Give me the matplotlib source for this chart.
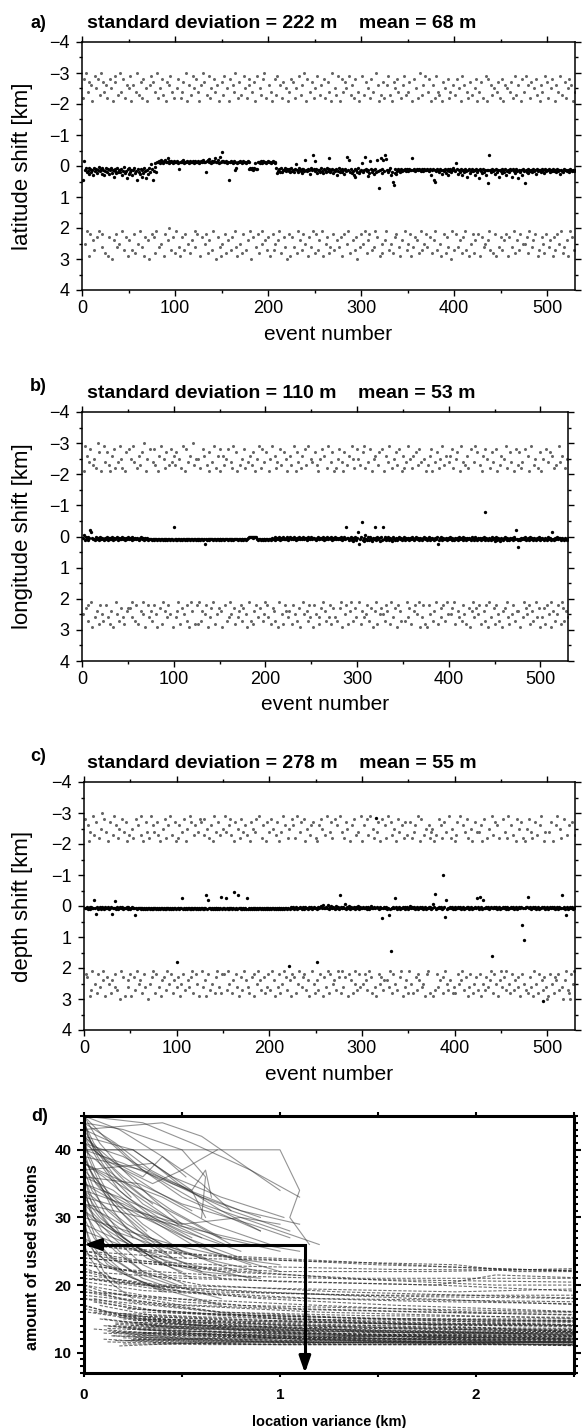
import numpy as np
import matplotlib
matplotlib.use('Agg')
import matplotlib.pyplot as plt
from matplotlib.ticker import MultipleLocator, FuncFormatter

# --- data -------------------------------------------------------------
# black dots: relocation shift per event, in units of 10 m
lat_shift_10m = [
    45, -15, 12, 8, 20, 15, 5, 25, 10, 18, 12, 28, 6, 15, 9, 22, 14, 3, 17, 11,
    8, 25, 13, 30, 16, 5, 19, 11, 27, 14, 7, 21, 12, 35, 9, 16, 24, 6, 18, 13,
    20, 10, 28, 15, 4, 22, 17, 38, 11, 26, 8, 19, 14, 30, 12, 6, 24, 16, 45, 10,
    18, 27, 9, 35, 14, 21, 5, 16, 40, 12, 25, 8, 18, -5, 11, 45, 15, 3, -10, 20,
    -14, -12, -15, -11, -18, -13, -10, -16, -20, -12, -14, -25, -11, -15, -13, -17, -12, -10, -15, -14,
    -13, -16, -11, 10, -14, -12, -15, -13, -18, -11, -14, -12, -16, -13, -10, -15, -14, -12, -17, -11,
    -13, -15, -12, -14, -16, -11, -13, -15, -12, -20, -14, -13, 20, -15, -18, -12, -22, -14, -11, -16,
    -13, -15, -25, -12, -14, -18, -11, -30, -13, -15, -45, -16, -14, -12, -15, -11, -13, 45, -14, -16,
    -12, -10, -15, 12, -13, 5, -11, -14, -12, -16, -13, -10, -15, -12, -14, -11, -13, -15, -12, 10,
    8, 10, 5, 12, 7, -10, 9, 11, -12, -14, -11, -15, -13, -10, -16, -12, -14, -11, -13, -15,
    -12, -14, -10, -13, -15, -12, -11, -14, 5, 22, 15, 10, 18, 8, 20, 12, 14, 6, 16, 11,
    13, 9, 17, 20, 7, 15, 12, 18, 10, -5, 14, 19, 8, 13, 16, 11, 22, 9, 15, -20,
    12, 17, 10, 14, 25, 8, 13, -35, 11, -15, 16, 9, 21, 14, 12, 18, 7, 15, 24, 10,
    13, 20, 8, 16, 11, -25, 19, 14, 9, 22, 12, 17, 10, 28, 15, 8, 20, 13, 11, 18,
    14, 25, 9, 16, -30, 12, -20, 18, 10, 22, 15, 28, 11, 35, 13, 19, 8, 24, 16, 12,
    -10, 20, 14, -30, 10, 17, 33, 12, 22, -15, 9, 18, 14, 26, 11, 20, -18, 15, 70, 13,
    -25, 24, 10, -20, 16, -35, -22, 12, 19, 14, 8, 30, 18, 50, 60, 22, 11, 25, 15, 9,
    13, 20, 10, 17, 12, 14, 9, 16, 11, 13, 15, 10, 12, 14, -25, 13, 9, 15, 12, 10,
    14, 11, 13, 16, 10, 12, 15, 11, 14, 13, 9, 12, 16, 10, 30, 13, 11, 45, 50, 12,
    15, 10, 13, 20, 11, 14, 25, 12, 17, 9, 22, 13, 28, 11, 16, 10, 19, 14, 8, 12,
    15, -10, 11, 25, 13, 18, 10, 30, 14, 12, 20, 9, 16, 35, 13, 11, 22, 15, 10, 17,
    12, 28, 14, 9, 19, 13, 40, 11, 16, 24, 10, 18, 13, 30, 12, 55, 14, -35, 14, 20,
    11, 17, 13, 25, 10, 19, 14, 35, 12, 16, 9, 22, 13, 18, 11, 30, 15, 12, 20, 10,
    14, 35, 11, 17, 13, 24, 10, 16, 40, 12, 19, 14, 28, 11, 15, 55, 13, 18, 10, 22,
    12, 16, 14, 20, 11, 15, 13, 25, 10, 17, 14, 12, 18, 11, 15, 13, 22, 10, 16, 12,
    14, 11, 19, 13, 15, 10, 17, 12, 14, 20, 11, 16, 13, 25, 12, 15, 18, 11, 14, 13,
    16, 12, 15, 18, 11, 14, 17, 13, 15, 12]

lon_shift_10m = [
    5, -5, 10, 3, 8, 12, 0, 6, -20, -15, 4, 9, 7, 11, 2, 8, 5, 10, 6, 3,
    9, 4, 7, 12, 5, 8, 2, 10, 6, 4, 9, 7, 3, 11, 5, 8, 6, 2, 10, 4,
    7, 5, 9, 3, 8, 6, 11, 4, 7, 2, 9, 5, 8, 10, 3, 6, 9, 4, 7, 5,
    8, 10, 6, 3, 9, 7, 5, 11, 4, 8, 6, 10, 7, 9, 8, 10, 9, 8, 10, 9,
    9, 10, 8, 9, 10, 9, 8, 10, 9, 11, 8, 9, 10, 9, 8, 10, 9, 8, 10, -30,
    8, 12, 9, 10, 8, 9, 10, 9, 11, 8, 9, 10, 8, 9, 10, 9, 8, 10, 9, 8,
    10, 9, 8, 10, 9, 11, 8, 9, 10, 9, 8, 10, 9, 25, 8, 10, 9, 8, 10, 9,
    8, 9, 10, 8, 9, 11, 9, 8, 10, 9, 8, 10, 9, 8, 10, 9, 8, 9, 10, 8,
    9, 10, 8, 9, 10, 8, 9, 7, 9, 10, 8, 9, 10, 8, 9, 10, 8, 9, 10, 8,
    5, 2, 0, 3, 1, 4, 2, 0, 3, 1, 8, 10, 9, 8, 10, 9, 11, 8, 9, 10,
    8, 9, 10, 9, 8, 10, 4, 9, 8, 10, 2, 9, 6, 8, 0, 10, 5, 9, 3, 7,
    9, 4, 8, 1, 10, 6, 3, 9, 5, 7, 2, 8, 10, 4, 6, 9, 3, 7, 5, 8,
    2, 9, 6, 4, 10, 3, 8, 5, 7, 1, 9, 6, 4, 8, 10, 5, 3, 7, 9, 6,
    4, 8, 2, 10, 5, 7, 3, 9, 6, 4, 8, 1, 10, 5, 7, 3, 9, 6, 8, 4,
    7, 2, 10, 5, 8, 3, 9, -30, 6, 4, 12, 7, 0, 10, 5, 15, 8, 3, 11, 6,
    -15, 25, 9, 2, -45, 12, 5, 15, -5, 8, 10, 3, 12, 0, 7, 14, 4, 9, 6, -30,
    11, 2, 8, 5, 13, 0, 10, -30, 7, 3, 12, 6, 9, 1, 11, 5, 8, 14, 3, 7,
    10, 4, 8, 12, 6, 2, 9, 5, 11, 7, 3, 10, 6, 8, 4, 9, 12, 5, 7, 2,
    8, 11, 6, 3, 9, 5, 10, 7, 4, 8, 12, 6, 2, 9, 5, 11, 7, 3, 10, 6,
    8, 4, 9, 12, 5, 7, 2, 25, 10, 6, 8, 3, 11, 5, 9, 7, 4, 10, 6, 8,
    3, 9, 12, 5, 7, 10, 4, 8, 6, 11, 2, 9, 5, 7, 10, 3, 8, 6, 12, 4,
    9, 5, 7, 11, 3, 8, 10, 6, 2, 9, 12, 5, 7, 4, 10, 6, 8, 3, 11, -80,
    5, 9, 12, 4, 7, 10, 2, 8, 6, 15, 3, 9, 11, 5, 7, 14, 4, 8, 10, 6,
    2, 9, 12, 5, 7, 10, 4, 8, 6, 11, 3, 9, -20, 8, 35, 10, 7, 12, 4, 8,
    6, 9, 3, 11, 7, 5, 10, 8, 2, 9, 6, 12, 4, 8, 10, 5, 7, 3, 11, 6,
    9, 4, 8, 10, 5, 7, 12, 3, 9, 6, 8, 11, -15, 7, 10, 5, 9, 2, 8, 4,
    6, 11, 4, 9, 7, 12, 5, 8, 10, 6]

dep_shift_10m = [
    5, 8, 3, 10, 6, 2, 9, 4, 7, 5, -20, 8, 25, 3, 10, 6, 4, 9, 2, 7,
    5, 10, 3, 8, 6, 4, 9, 7, 2, 25, 8, 5, 6, -15, 10, 3, 9, 7, 4, 8,
    2, 10, 6, 5, 8, 3, 9, 4, 7, 10, 6, 3, 5, 8, 30, 7, 9, 6, 8, 7,
    9, 8, 7, 9, 8, 10, 7, 9, 8, 7, 9, 8, 10, 7, 9, 8, 7, 9, 8, 10,
    7, 9, 8, 7, 9, 8, 10, 7, 9, 8, 7, 9, 8, 10, 7, 9, 8, 7, 9, 180,
    8, 7, 9, 8, 7, -25, 9, 8, 10, 7, 9, 8, 7, 9, 8, 10, 7, 9, 8, 7,
    9, 8, 10, 7, 9, 8, 7, 9, 8, 10, 7, -35, 9, -20, 8, 7, 9, 8, 10, 7,
    9, 8, 7, 9, 8, 10, 7, -30, 9, 8, 7, 9, -25, 8, 10, 7, 9, 8, 7, 9,
    8, -45, 10, 7, 9, -35, 8, 7, 9, 8, 10, 7, 9, 8, 10, -25, 9, 8, 10, 7,
    9, 8, 7, 9, 8, 10, 7, 9, 8, 7, 9, 8, 10, 7, 9, 8, 7, 9, 8, 10,
    7, 9, 8, 7, 9, 8, 10, 7, 9, 8, 7, 9, 8, 10, 7, 9, 8, 7, 9, 8,
    195, 9, 2, 7, 8, 4, 10, 6, 3, 9, 5, 8, 2, 7, 10, 4, 6, 9, 3, 8,
    5, 10, 2, 7, 4, 9, 6, 3, 8, 5, 10, 180, 2, 7, 4, 0, 6, -3, 8, 5,
    2, 7, -2, 9, 4, 6, 1, 8, 3, 5, 10, 0, 7, 4, 9, -35, 2, 6, 8, 3,
    5, -5, 10, 4, 7, 0, 9, 3, 6, 8, 2, 5, 10, 4, 7, 1, 9, 3, 6, 8,
    2, 5, 8, 4, 7, 10, 3, 9, 6, 0, 8, 5, 2, 7, -285, 4, 6, 9, 3, 5,
    5, 40, 8, 2, 7, 4, 10, 6, 30, 9, 145, 5, 8, 2, 7, -25, 4, 10, 6, 3,
    9, 5, 8, 2, 7, 4, 10, 6, 3, 9, 5, 0, 8, 2, 7, 4, 10, 6, 3, 9,
    5, 8, 2, 7, 4, 10, 6, 3, 9, 5, 8, 2, 7, 4, 10, 6, -5, 3, -40, 9,
    5, 8, 2, 7, 4, 10, 6, -100, 3, 35, -20, 9, 5, 8, 2, 7, 4, 10, 6, 3,
    9, 5, 8, 2, 7, 4, 10, 6, 3, 9, 5, 8, 2, 7, 4, 10, 6, 3, 9, 5,
    8, 2, 7, -25, 4, 10, -28, 6, 3, 9, -20, 5, 8, 2, 7, 4, 10, 6, 3, 160,
    5, 8, 2, 7, 4, 10, 6, 3, 9, 5, 8, 2, 7, 4, 10, 6, 3, 9, 5, 8,
    2, 7, 4, 10, 6, 3, 9, 5, 8, 2, 7, 4, 60, 5, 110, 7, 4, 3, -30, 6,
    3, 9, 5, 8, 2, 7, 4, 10, 6, 3, 9, 5, 8, 2, 305, 7, 4, 10, 6, 3,
    9, 5, 4, 8, 2, 7, 4, 10, 6, 5, 3, 9, 2, 5, 8, -35, 7, 4, 10, 30,
    3, 9, 5, 8, 2, 7, 4, 10, 6, 3]

# grey dots: perturbed starting position per event, in units of 100 m
lat_start_100m = [
    -22, -28, 25, -30, 21, -24, -27, 29, 22, -26, -21, 24, 27, -29, -25, 23, -28, 21, -23, -30, 26, 22, -27, -24, 28,
    -26, -22, 29, 23, -28, -25, 30, -21, 24, -27, -29, 22, 26, -23, 25, -30, -24, 21, -28, 27, -22, 23, -26, 29, -25,
    24, -29, -21, 27, -26, 22, 28, -24, -30, 25, -23, 21, -27, 26, -22, -28, 29, 23, -25, -21, 24, 30, -26, -29, 22,
    -27, 23, -24, 28, 21, -30, -22, 26, -25, 25, -28, -23, 29, 22, -21, -27, 24, -26, 20, -29, 27, -24, 23, -22, 28,
    21, -25, -28, 26, 29, -22, -24, 23, -27, 27, 22, -30, -21, 25, -26, 28, -23, 24, -29, -25, 21, 26, -28, 22, -24,
    -21, 29, -26, 23, -30, -27, 25, 22, -23, 28, -29, 24, -22, -25, 27, 21, -28, -24, 30, -26, 23, -21, 26, 29, -27,
    25, -23, -29, 22, 28, -25, 24, -21, -28, 27, 23, -26, -24, 21, -30, 26, 29, -22, -27, 25, -23, 28, 22, -29, -25,
    27, -22, 24, -28, -26, 21, 30, -24, 23, -27, -21, 26, -29, 22, 28, -25, -23, 25, 21, -28, -30, 24, -22, 27, 23,
    -26, 29, -24, -21, 22, 27, -28, 25, -23, -29, 24, 21, -26, 28, -22, -27, 23, 26, -25, 30, -21, -24, 22, 29, -28,
    23, -27, 26, -22, -25, 28, 21, -29, 24, -23, 27, -26, 22, -30, 25, -21, -28, 29, 23, -24, 26, -27, 21, -22, 28,
    -25, 22, -29, 27, 24, -23, -26, 21, 29, -28, -22, 25, 23, -27, -24, 28, 26, -21, -30, 22, 27, -25, -23, 24, -29,
    26, -21, 23, -28, 29, -24, 22, -27, -25, 25, 21, -29, 28, -23, -26, 24, -22, 27, -28, 23, 30, -24, -21, 26, 22,
    -29, 25, -23, 21, -27, 28, -25, 24, 22, -22, -28, 27, -24, 26, 21, -30, 23, -26, -21, 29, -23, 25, 28, -27, -22,
    24, 21, -26, -29, 27, -23, 25, -21, 28, -27, 23, -25, 22, -28, -24, 26, 29, -22, 24, -26, -29, 21, -23, 27, 25,
    -24, -27, 22, 29, -21, 26, -28, 23, -25, 24, -22, 28, -30, 21, 27, -23, -26, 25, -29, 22, 26, -24, -28, 23, -21,
    28, -26, 24, -22, 21, -29, 27, -24, -23, 25, 29, -21, -27, 22, -25, 28, 23, -28, 26, -22, -24, 30, 21, -26, 27,
    -23, 22, -28, 26, -25, 24, -21, -29, 28, 23, -26, 21, 27, -24, -22, 29, -27, 25, -23, 22, 28, -25, 24, -28, -21,
    22, -24, 29, -27, 23, -22, 26, 25, -29, -21, 24, -28, 21, 27, -26, -23, 28, -25, 22, 29, -24, -27, 26, -22, 23,
    -28, 27, -21, 24, -26, 22, -25, 29, 23, -24, -27, 26, -22, 21, 28, -29, -23, 24, -26, 27, 22, -21, -28, 25, -24,
    25, -29, 23, -26, 28, 21, -22, -27, 26, 24, -25, 22, -28, -23, 29, 27, -21, -26, 23, -24, 25, 28, -29, 22, -27,
    -22, 26, 24, -25, -28, 29, 23, -21, 27, -26, 22, -24, 25, -29, 21, -23, 28, 26, -27, -22, 24, -25, 29, -28, 21,
    -26, 23, -21, 27, -24]

lon_start_100m = [
    25, -21, -29, 23, -26, 27, 22, -24, -28, 21, 29, -23, -25, 26, -22, 24, -30, 28, -27, 22, -21, 25, 27, -29, -24,
    22, -27, 26, -23, -21, 28, 24, -26, 29, -28, -22, 21, 25, -24, 27, -29, 23, -25, -22, 26, 28, -21, -27, 24, 23,
    -28, 23, -25, 21, 26, -29, -24, 27, 22, -22, 28, -26, -23, 24, -27, 25, 21, -30, 29, -21, -25, 22, 26, -28, 24,
    27, -24, 22, -28, -23, 25, 29, -21, -26, 23, -29, 28, 21, -25, 24, -22, -27, 26, 22, -23, 25, -28, -24, 29, -26,
    -23, 26, -27, 24, 21, -25, 28, -22, 23, -29, 25, -21, -28, 27, 22, -24, 29, -26, 21, 24, -30, -23, 28, -25, 22,
    28, -25, 21, -22, 27, 24, -28, -26, 25, 22, -23, 29, -21, -27, 26, 23, -24, 21, -29, 28, -22, 25, -26, 23, -28,
    -21, 24, 29, -26, -23, 22, -25, 27, -28, 26, 21, -24, 25, -22, -29, 23, 28, -27, -21, 26, 24, -23, 22, -25, 27,
    23, -28, -22, 25, 29, -24, 21, -26, 27, -23, -27, 28, 24, -21, 22, -25, 26, -29, 23, -22, -28, 27, 25, -24, 21,
    -27, 22, 26, -21, -25, 28, -29, 23, 24, -26, 27, -22, -24, 29, 21, -28, -23, 25, 28, -27, 22, -25, 24, -21, 26,
    24, -26, -23, 28, 22, -29, 25, -21, -27, 27, -24, 23, 29, -22, -26, 21, 25, -28, -23, 24, 27, -29, 22, 26, -25,
    -24, 29, 22, -27, 25, -23, -21, 26, 28, -25, 23, -28, 21, -26, 24, 27, -22, -29, 26, 22, -24, 28, -27, 23, -21,
    26, -22, 27, -25, -28, 23, 21, -24, 29, -21, -27, 25, 22, -23, 28, -26, 24, 21, -29, 27, -25, -22, 23, 26, -28,
    -25, 21, -23, 28, 24, -27, 26, -29, -22, 25, 22, -24, 27, -28, 23, -21, 29, -25, 24, -26, 21, 28, -23, -27, 25,
    23, -28, 25, -21, 27, 22, -26, 24, -24, -29, 28, 21, -22, 26, -25, 23, -27, 29, -23, 22, -28, 24, 27, -21, -26,
    -22, 27, -24, 21, -29, 26, 23, -25, 28, -22, -26, 24, 22, -27, 25, -23, 21, -28, 29, -24, 26, 22, -25, 28, -21,
    29, -23, 22, -26, 25, -28, -21, 27, 24, -24, 21, -27, 28, -22, -25, 26, 23, -29, 22, -23, 27, -26, 21, 25, -24,
    -26, 25, -28, 23, -22, 21, 28, -25, -27, 24, 26, -21, -29, 27, 22, -24, 25, -23, 28, -26, -22, 23, 29, -28, 24,
    21, -24, 26, -29, 23, -27, 25, 22, -23, 28, -21, -26, 24, 27, -28, 22, -25, 29, 21, -22, 26, -27, -24, 23, 28,
    -28, 22, -21, 25, 27, -23, -26, 29, 24, -25, 23, -29, 21, -22, 26, 28, -27, -24, 25, 22, -21, 27, -28, 24, -23,
    24, -27, 29, -22, -24, 26, 21, -28, 23, 25, -26, 22, -21, 28, -29, 24, 27, -23, -25, 21, 26, -22, 23, -27, 29,
    -21, 26, -25, 23, 28, -28, 22, -24, 25, -27, 21, 29, -26, 24, -22, 27, -23, 25, 22, -29, -24, 28, 21, -26, 23,
    27, -22, 24, -25, 26]

dep_start_100m = [
    -28, 22, 23, -26, -21, 29, -24, 27, 21, -29, -23, 25, -27, 28, 22, -22, 26, -25, -30, 24, 21, -28, 29, -24, 23,
    -21, 25, -27, 28, 24, -23, -29, 22, 26, -26, 27, -22, -25, 30, 21, -28, 23, -24, 29, -27, -21, 24, 26, -23, 22,
    29, -25, -22, 23, 27, -28, 21, -26, 25, 24, -29, -23, 28, -21, 22, 26, -27, -24, 30, -22, 25, -29, 23, 21, -26,
    -24, 28, 22, -27, -23, 26, -21, 29, 24, -25, 23, -28, -22, 27, 21, -26, 25, -29, 22, -23, 28, 24, -27, -21, 26,
    23, -22, -26, 29, 25, -24, 22, -28, 27, -21, -25, 24, 26, -29, 23, -27, 21, 28, -23, -26, 22, 25, -24, 29, -28,
    -27, 21, 26, -23, -28, 24, 29, -25, 22, -22, 27, -26, 25, -21, -29, 28, 23, -24, 21, -27, 26, -23, 28, 22, -25,
    22, -29, -24, 27, 21, -26, 25, -28, -23, 28, 24, -21, -27, 22, 26, -25, 29, -22, -28, 23, 27, -24, 21, -26, 24,
    -23, 26, 28, -21, -27, 23, -25, 22, 29, -24, -28, 25, 21, -29, 24, 27, -22, -26, 23, 28, -21, 26, -27, 22, -24,
    27, -28, 21, -25, 24, 29, -23, -27, 26, 22, -21, 28, -24, 25, -29, 21, -26, 23, 27, -22, -25, 24, 29, -28, 22,
    -26, 23, -22, 28, -29, 25, 21, -24, -27, 26, 23, -28, 22, -21, 27, -25, 24, 29, -23, -26, 21, -27, 25, 28, -22,
    24, -21, 27, -26, 22, -28, -25, 29, 23, -23, 26, -29, 21, 28, -24, 22, -27, -22, 25, 24, -28, 27, -26, 21, 23,
    -29, 28, -24, 21, 26, -22, 23, -27, -25, 29, 22, -21, 24, -26, 28, -28, 25, 21, -23, 27, -24, 22, 26, -29, -21,
    25, -26, 22, 24, -28, 27, -23, 21, -29, 23, 28, -25, -22, 26, 29, -24, -27, 22, 25, -21, 23, -28, 27, 24, -26,
    -22, 24, -29, 26, 21, -27, 28, -23, 22, -25, 25, -21, 27, -28, -24, 23, 21, -26, 29, -22, -27, 26, 24, -23, 28,
    21, -27, 25, -22, 28, -24, -26, 23, 27, -29, 22, 24, -21, -28, 26, 25, -23, 29, -25, 22, 21, -26, -22, 28, -24,
    -25, 29, -21, 27, -23, 22, 26, -28, 24, -26, -22, 28, 23, -27, 21, -24, 25, 27, -29, 24, -22, -25, 28, 26, -21,
    28, -23, -27, 22, 25, -29, 24, 21, -26, 27, -24, 23, -28, 29, -22, 26, 22, -25, -21, 28, 25, -27, 23, -24, 27,
    -24, 22, 29, -26, -21, 25, -28, 27, 23, -22, 26, -25, 24, 21, -29, -23, 28, 22, -27, 25, -26, 29, -22, 24, 21,
    26, -28, 23, -24, 27, 21, -22, -29, 25, 28, -26, 22, -23, 27, 24, -21, -28, 26, 23, -25, 29, -27, 22, -22, 25,
    -21, 27, -25, 28, -28, 23, 26, -24, -22, 29, 21, -27, 25, -23, 28, 22, -26, -29, 24, 27, -21, 23, -24, 26, 30,
    29, -24, 22, -27, 25, -21, 28, 23, -26, 24, -29, 22, 27, -25, -22, 26, 30, -28, 24, 21, -23, 27, 28, -26, 30,
    22, -27, 25, 21, -23]

# panel d: location variance (km) vs. number of used stations, one curve per event
solid_var = [
    [0, 0.1, 0.25, 0.5, 0.9], [0, 0.05, 0.2, 0.45, 0.7], [0, 0.15, 0.3, 0.6, 1.0, 1.2],
    [0, 0.08, 0.18, 0.35, 0.55], [0, 0.2, 0.45, 0.8, 1.1], [0, 0.12, 0.3, 0.5, 0.75],
    [0, 0.3, 0.6, 1.0, 1.1, 1.05, 1.15], [0, 0.05, 0.15, 0.3, 0.5], [0, 0.22, 0.4, 0.65, 0.95],
    [0, 0.1, 0.28, 0.5, 0.8], [0, 0.04, 0.12, 0.25, 0.4], [0, 0.18, 0.42, 0.7, 1.0],
    [0, 0.07, 0.2, 0.38, 0.6], [0, 0.25, 0.5, 0.8, 1.0], [0, 0.1, 0.25, 0.45, 0.7],
    [0, 0.15, 0.35, 0.6, 0.9], [0, 0.05, 0.14, 0.3, 0.5], [0, 0.3, 0.55, 0.85, 1.1],
    [0, 0.2, 0.5, 0.62, 0.6], [0, 0.02, 0.08, 0.15, 0.25], [0, 0.25, 0.45, 0.7, 1.02],
    [0, 0.06, 0.15, 0.28, 0.45], [0, 0.3, 0.55, 0.62, 0.65], [0, 0.04, 0.1, 0.2, 0.35],
    [0, 0.35, 0.48, 0.7, 0.9], [0, 0.15, 0.32, 0.55, 0.85], [0, 0.03, 0.09, 0.18, 0.3],
    [0, 0.2, 0.4, 0.65, 1.0], [0, 0.08, 0.2, 0.35, 0.55], [0, 0.3, 0.6, 0.9, 1.1],
    [0, 0.06, 0.16, 0.3, 0.48], [0, 0.22, 0.45, 0.75, 1.0], [0, 0.04, 0.12, 0.25, 0.42],
    [0, 0.18, 0.38, 0.6, 0.9], [0, 0.1, 0.25, 0.45, 0.7], [0, 0.08, 0.2, 0.34, 0.5],
    [0, 0.4, 0.6, 0.8, 1.0], [0, 0.14, 0.35, 0.5, 0.68], [0, 0.25, 0.4, 0.55, 0.62],
    [0, 0.12, 0.28, 0.48, 0.72], [0, 0.28, 0.5, 0.85, 1.05], [0, 0.05, 0.15, 0.3, 0.52],
    [0, 0.18, 0.4, 0.6, 0.75], [0, 0.1, 0.3, 0.4, 0.52], [0, 0.06, 0.18, 0.34, 0.52],
    [0, 0.05, 0.12, 0.22, 0.35], [0, 0.08, 0.2, 0.36, 0.55], [0, 0.03, 0.1, 0.2, 0.32],
    [0, 0.1, 0.22, 0.38, 0.6], [0, 0.04, 0.1, 0.18, 0.28], [0, 0.12, 0.3, 0.52, 0.8],
    [0, 0.02, 0.06, 0.12, 0.2], [0, 0.07, 0.18, 0.32, 0.5], [0, 0.15, 0.32, 0.55, 0.85],
    [0, 0.05, 0.14, 0.26, 0.4], [0, 0.03, 0.08, 0.15, 0.25], [0, 0.1, 0.25, 0.45, 0.7],
    [0, 0.02, 0.07, 0.14, 0.24], [0, 0.16, 0.34, 0.6, 0.9], [0, 0.06, 0.16, 0.3, 0.48],
    [0, 0.2, 0.45, 0.75, 1.05], [0, 0.04, 0.12, 0.24, 0.4], [0, 0.09, 0.22, 0.4, 0.62],
    [0, 0.13, 0.3, 0.5, 0.78], [0, 0.02, 0.05, 0.1, 0.18]]
solid_sta = [
    [45, 42, 38, 33, 28], [44, 40, 36, 31, 27], [43, 41, 37, 32, 28, 26],
    [42, 38, 34, 30, 27], [41, 39, 35, 31, 29], [40, 37, 33, 30, 26],
    [40, 40, 40, 40, 34, 30, 26], [39, 36, 33, 29, 25], [38, 35, 33, 29, 26],
    [37, 34, 31, 28, 25], [36, 32, 29, 26, 23], [35, 33, 30, 27, 25],
    [34, 31, 28, 25, 22], [33, 31, 29, 30, 29], [32, 29, 26, 23, 21],
    [31, 28, 26, 24, 22], [30, 27, 24, 21, 19], [45, 44, 41, 37, 33],
    [44, 43, 40, 36, 30], [43, 39, 35, 31, 27], [42, 40, 36, 33, 30],
    [41, 37, 32, 28, 24], [39, 37, 34, 37, 33], [38, 35, 31, 27, 24],
    [37, 38, 35, 31, 28], [36, 34, 30, 26, 23], [35, 31, 28, 25, 22],
    [34, 32, 29, 25, 22], [33, 30, 27, 24, 21], [32, 30, 28, 26, 25],
    [31, 28, 25, 22, 20], [30, 28, 26, 24, 23], [29, 26, 23, 21, 19],
    [28, 26, 24, 22, 21], [27, 25, 22, 20, 18], [45, 41, 37, 33, 29],
    [43, 44, 42, 38, 34], [41, 38, 35, 37, 40], [40, 40, 37, 34, 30],
    [38, 36, 33, 29, 26], [36, 35, 32, 29, 27], [34, 30, 27, 23, 20],
    [45, 43, 39, 35, 31], [42, 39, 36, 39, 36], [39, 35, 31, 27, 24],
    [44, 41, 38, 35, 32], [42, 40, 37, 34, 31], [40, 37, 34, 31, 28],
    [38, 36, 33, 30, 27], [36, 33, 30, 27, 25], [35, 33, 30, 27, 24],
    [33, 30, 27, 24, 22], [31, 29, 27, 24, 22], [29, 27, 25, 23, 21],
    [27, 25, 23, 21, 19], [26, 24, 22, 20, 18], [25, 23, 21, 19, 17],
    [45, 42, 39, 36, 33], [44, 41, 37, 33, 30], [43, 40, 36, 32, 29],
    [40, 38, 35, 31, 28], [37, 34, 31, 28, 25], [34, 32, 29, 26, 24],
    [32, 30, 27, 25, 22], [30, 27, 25, 22, 20]]

dash_var = [
    [0, 0.3, 0.8, 1.5, 2.6], [0, 0.2, 0.7, 1.4, 2.6], [0, 0.4, 1.0, 1.8, 2.6],
    [0, 0.25, 0.6, 1.3, 2.6], [0, 0.15, 0.5, 1.2, 2.6], [0, 0.3, 0.9, 1.7, 2.6],
    [0, 0.1, 0.5, 1.2, 2.6], [0, 0.2, 0.7, 1.5, 2.6], [0, 0.35, 1.0, 1.8, 2.6],
    [0, 0.12, 0.4, 1.1, 2.6], [0.05, 0.3, 0.8, 1.6, 2.6], [0.1, 0.4, 1.0, 1.9, 2.6],
    [0.15, 0.5, 1.2, 2.0, 2.6], [0.2, 0.6, 1.3, 2.1, 2.6], [0.25, 0.7, 1.4, 2.6],
    [0.18, 0.6, 1.3, 2.6], [0.1, 0.45, 1.1, 1.8, 2.6], [0.3, 0.8, 1.5, 2.2, 2.6],
    [0.22, 0.7, 1.4, 2.6], [0, 0.5, 1.1, 1.8, 2.6], [0, 0.6, 1.3, 2.1, 2.6],
    [0, 0.35, 0.9, 1.6, 2.6], [0, 0.45, 1.2, 2.0, 2.6], [0, 0.25, 0.8, 1.5, 2.6],
    [0.02, 0.25, 0.75, 1.4, 2.6], [0.08, 0.35, 0.9, 1.6, 2.6], [0.12, 0.5, 1.1, 1.9, 2.6],
    [0.16, 0.55, 1.2, 2.6], [0.28, 0.8, 1.5, 2.6], [0.2, 0.6, 1.2, 2.0, 2.6],
    [0.14, 0.5, 1.0, 2.6], [0.24, 0.75, 1.6, 2.6], [0, 0.3, 0.8, 1.6, 2.6],
    [0, 0.4, 1.0, 1.8, 2.1, 2.6], [0, 0.5, 1.2, 1.9, 2.2, 2.6], [0, 0.2, 0.6, 1.3, 2.6],
    [0.05, 0.4, 1.0, 1.7, 2.6], [0.1, 0.5, 1.1, 1.8, 2.6], [0.3, 0.9, 1.7, 2.6],
    [0.35, 0.9, 1.8, 2.6], [0.18, 0.65, 1.3, 2.0, 2.6], [0.26, 0.85, 1.6, 2.6],
    [0.12, 0.45, 1.1, 2.6], [0, 0.2, 0.65, 1.4, 2.6], [0, 0.4, 1.0, 1.9, 2.6],
    [0, 0.3, 0.8, 1.5, 2.6], [0.08, 0.35, 0.9, 1.7, 2.6], [0.2, 0.6, 1.3, 2.6],
    [0.16, 0.55, 1.3, 2.2, 2.6], [0, 0.6, 1.3, 2.0, 2.6], [0.3, 0.9, 1.5, 2.6],
    [0.1, 0.4, 1.0, 2.6], [0.22, 0.75, 1.5, 2.6], [0.05, 0.3, 0.9, 1.8, 2.6],
    [0, 0.25, 0.7, 1.4, 2.6],
    [0.15, 0.5, 1.1, 1.9, 2.6], [0.2, 0.55, 1.2, 2.0, 2.6], [0.25, 0.7, 1.4, 2.6],
    [0.18, 0.5, 1.0, 1.8, 2.6], [0.3, 0.8, 1.6, 2.6], [0.12, 0.4, 0.9, 1.7, 2.6],
    [0.22, 0.6, 1.3, 2.1, 2.6], [0.28, 0.75, 1.5, 2.6], [0.16, 0.45, 1.1, 2.0, 2.6],
    [0.35, 0.9, 1.7, 2.6], [0.1, 0.35, 0.85, 1.6, 2.6], [0.24, 0.7, 1.4, 2.2, 2.6],
    [0.2, 0.6, 1.2, 2.6], [0.14, 0.5, 1.2, 2.0, 2.6], [0.3, 0.85, 1.6, 2.6],
    [0.26, 0.7, 1.3, 2.0, 2.6], [0.08, 0.3, 0.8, 1.5, 2.6], [0.2, 0.65, 1.4, 2.6],
    [0.18, 0.55, 1.2, 2.0, 2.6], [0.32, 0.9, 1.6, 2.6], [0.05, 0.3, 0.7, 1.4, 2.6],
    [0.12, 0.45, 1.0, 1.8, 2.6], [0.22, 0.6, 1.3, 2.6], [0.28, 0.8, 1.5, 2.3, 2.6],
    [0.16, 0.5, 1.1, 2.6], [0, 0.3, 0.9, 1.7, 2.6], [0, 0.2, 0.7, 1.5, 2.6],
    [0, 0.4, 1.1, 1.9, 2.6], [0, 0.25, 0.8, 1.6, 2.6], [0.04, 0.35, 0.9, 1.7, 2.6]]
dash_sta = [
    [26, 25, 24, 23, 22], [25, 24, 22, 21, 21], [24, 23, 22, 22, 22.5],
    [23, 22, 20, 19, 18], [22, 21, 19, 18, 17.5], [21, 20, 19, 18, 17],
    [20, 19, 17, 16, 15], [19, 18, 16, 15, 14], [18, 17, 15, 14, 13],
    [17, 16, 15, 14, 13], [16, 15, 14, 13, 12.5], [15, 14, 13, 12.5, 12],
    [14, 13.5, 13, 12, 12], [13, 12.5, 12, 11.5, 11.5], [12, 11.5, 11.5, 11],
    [11, 11.5, 12, 12.5], [14, 13, 12, 11.5, 11], [15, 14.5, 14, 13.5, 13.5],
    [13.5, 13, 12.5, 12], [22, 21, 20.5, 20, 19], [24, 22.5, 21, 20, 20],
    [21, 19.5, 18, 17, 16], [19, 18, 17, 16, 16], [18, 16.5, 15.5, 14.5, 14],
    [16, 15, 13.5, 12.5, 12], [15, 14, 12.5, 12, 11.5], [14, 13, 12, 11.5, 11],
    [13, 12, 11.5, 11.2], [12, 12, 12.5, 13], [15, 14, 13.5, 13, 12.5],
    [12.5, 12, 11.5, 11.5], [14, 13.5, 13, 13], [20, 18.5, 17, 16.5, 16],
    [23, 21.5, 20.5, 20, 21.5, 21], [25, 24, 23.5, 23, 22, 22], [17, 15.5, 14.5, 14, 14.5],
    [18, 16, 15, 14.5, 14.8], [19, 17.5, 16.5, 16, 15.5], [13, 12.5, 12, 11.8],
    [11.5, 11.2, 11.2, 11.3], [15.5, 15, 14.5, 14, 14], [14.5, 13.8, 13.2, 12.8],
    [13.2, 12.8, 12.5, 12.2], [22.5, 20.5, 19, 18.5, 18.5], [21.5, 20, 19.5, 19, 19.5],
    [16.5, 15, 13.5, 13, 13.2], [17, 15.5, 14.8, 14.2, 13.8], [12.2, 11.8, 11.6, 11.8],
    [14.2, 13.6, 13.2, 12.8, 12.6], [26, 24.5, 23.5, 22.5, 22], [16, 15.5, 15, 15],
    [12, 11.5, 11.2, 11.2], [11.8, 12.2, 12, 11.6], [13.5, 13, 12.7, 12.4, 12.3],
    [19.5, 17.5, 16, 15.5, 15.2],
    [12.5, 12.2, 11.8, 11.6, 11.5], [13.8, 13.2, 12.8, 12.6, 12.4], [14.8, 14.2, 13.8, 13.6],
    [15.2, 14.6, 14.1, 13.6, 13.4], [12.8, 12.4, 12.1, 12.0], [11.6, 11.4, 11.3, 11.5, 11.7],
    [16.5, 15.8, 15.2, 14.8, 14.6], [13.4, 13.0, 12.6, 12.4], [14.4, 13.9, 13.4, 13.0, 12.9],
    [14.0, 13.6, 13.3, 13.1], [12.9, 12.6, 12.3, 12.1, 11.9], [11.9, 11.7, 11.6, 11.5, 11.4],
    [15.8, 15.3, 14.9, 14.6], [13.0, 12.7, 12.4, 12.2, 12.1], [15.0, 14.6, 14.3, 14.1],
    [12.3, 12.0, 11.8, 11.7, 11.6], [16.2, 15.4, 14.7, 14.3, 14.0], [11.3, 11.2, 11.2, 11.2],
    [14.6, 14.1, 13.7, 13.4, 13.3], [13.7, 13.3, 12.9, 12.7], [17.5, 16.4, 15.6, 15.1, 14.7],
    [13.6, 13.2, 12.9, 12.6, 12.5], [12.6, 12.3, 12.0, 11.9], [14.2, 13.9, 13.6, 13.3, 13.2],
    [11.8, 11.6, 11.5, 11.6], [20.5, 19.2, 18.2, 17.6, 17.2], [23.5, 22.3, 21.4, 20.8, 20.4],
    [18.5, 17.2, 16.4, 15.9, 15.6], [24.5, 23.6, 22.8, 22.3, 22.2], [21.0, 19.8, 18.9, 18.3, 18.0]]

# chosen threshold marked by the arrows in panel d
arrow_var = 1.127
arrow_sta = 26

# --- figure -----------------------------------------------------------
plt.rcParams['font.family'] = ['Liberation Sans', 'DejaVu Sans']

W, H = 582, 1428
fig = plt.figure(figsize=(W / 100, H / 100), dpi=100)


def px_axes(left, top, right, bottom):
    return fig.add_axes([left / W, 1 - bottom / H, (right - left) / W, (bottom - top) / H])


def ftxt(x, y, s, **kw):
    fig.text(x / W, 1 - y / H, s, **kw)


def shift_panel(box, shift_10m, start_100m, letter, title, ylabel):
    left, top, right, bottom = box
    ax = px_axes(left, top, right, bottom)
    ax.plot(np.arange(1, len(start_100m) + 1), np.array(start_100m) / 10.0,
            ls='none', marker='o', ms=2.2, mfc='#666666', mec='none')
    ax.plot(np.arange(1, len(shift_10m) + 1), np.array(shift_10m) / 100.0,
            ls='none', marker='o', ms=2.4, mfc='black', mec='none')
    ax.set_xlim(0, 530)
    ax.set_ylim(4, -4)
    ax.xaxis.set_major_locator(MultipleLocator(100))
    ax.xaxis.set_minor_locator(MultipleLocator(50))
    ax.yaxis.set_major_locator(MultipleLocator(1))
    ax.yaxis.set_minor_locator(MultipleLocator(0.5))
    ax.tick_params(which='both', direction='out', top=True, right=True, width=1.0)
    ax.tick_params(which='major', length=4, labelsize=13)
    ax.tick_params(which='minor', length=2)
    ax.tick_params(axis='x', which='major', pad=3)
    ax.tick_params(axis='y', which='major', pad=5)
    for s in ax.spines.values():
        s.set_linewidth(1.1)
    ftxt(38, top - 14 - (0 if letter == 'a)' else 7), letter, fontsize=13, fontweight='bold',
         ha='center', va='baseline')
    ftxt(87, top - 14, title, fontsize=14, fontweight='bold', ha='left', va='baseline')
    ftxt(23, (top + bottom) / 2, ylabel, fontsize=16, rotation=90, ha='center', va='center')
    ftxt((left + right) / 2, bottom + 44, 'event number', fontsize=15, ha='center', va='center')
    return ax


shift_panel((82, 42, 575, 290), lat_shift_10m, lat_start_100m, 'a)',
            'standard deviation = 222 m    mean = 68 m', 'latitude shift [km]')
shift_panel((82, 412, 568, 661), lon_shift_10m, lon_start_100m, 'b)',
            'standard deviation = 110 m    mean = 53 m', 'longitude shift [km]')
shift_panel((84, 782, 575, 1030), dep_shift_10m, dep_start_100m, 'c)',
            'standard deviation = 278 m    mean = 55 m', 'depth shift [km]')

# panel d
axd = px_axes(84, 1116, 574, 1373)
for v, s in zip(dash_var, dash_sta):
    axd.plot(v, s, color='#2a2a2a', lw=0.8, alpha=0.68, ls=(0, (3, 1.5)))
for v, s in zip(solid_var, solid_sta):
    axd.plot(v, s, color='#2a2a2a', lw=0.8, alpha=0.5)
axd.set_xlim(0, 2.5)
axd.set_ylim(7, 45)
axd.plot([0.03, arrow_var, arrow_var], [arrow_sta, arrow_sta, 8], color='k', lw=2.2,
         solid_joinstyle='miter')
axd.annotate('', xy=(0, arrow_sta), xytext=(0.1, arrow_sta),
             arrowprops=dict(arrowstyle='-|>,head_length=1.0,head_width=0.35', color='k',
                             lw=2.2, shrinkA=0, shrinkB=0))
axd.annotate('', xy=(arrow_var, 7), xytext=(arrow_var, 9),
             arrowprops=dict(arrowstyle='-|>,head_length=1.0,head_width=0.35', color='k',
                             lw=2.2, shrinkA=0, shrinkB=0))
axd.xaxis.set_major_locator(MultipleLocator(0.5))
axd.xaxis.set_major_formatter(FuncFormatter(lambda v, p: '%d' % round(v) if abs(v - round(v)) < 1e-6 else ''))
axd.yaxis.set_major_locator(MultipleLocator(10))
axd.yaxis.set_minor_locator(MultipleLocator(1))
axd.tick_params(which='both', direction='out', top=True, right=True, width=1.5)
axd.tick_params(axis='x', which='major', length=3, pad=8, labelsize=11)
axd.tick_params(axis='y', which='major', length=5, pad=4, labelsize=11)
axd.tick_params(axis='y', which='minor', length=3)
for lab in axd.get_xticklabels() + axd.get_yticklabels():
    lab.set_fontweight('bold')
for s in axd.spines.values():
    s.set_linewidth(2.2)
ftxt(40, 1121, 'd)', fontsize=13, fontweight='bold', ha='center', va='baseline')
ftxt(33, 1257, 'amount of used stations', fontsize=11.5, fontweight='bold', rotation=90,
     ha='center', va='center')
ftxt(329, 1426, 'location variance (km)', fontsize=10.5, fontweight='bold', ha='center', va='baseline')

fig.savefig('out.png', dpi=100)
